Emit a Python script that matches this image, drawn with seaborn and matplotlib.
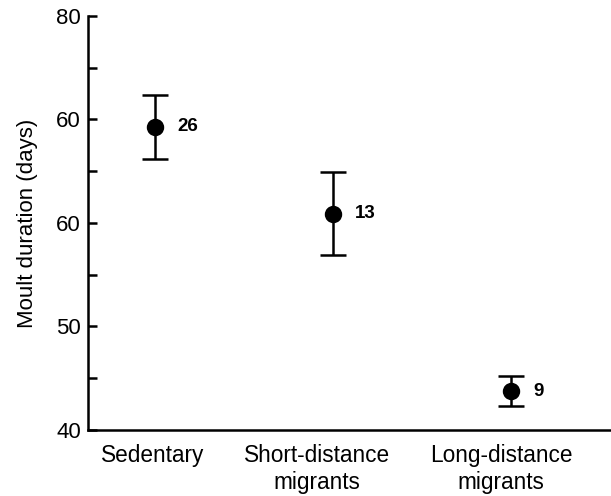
import matplotlib
matplotlib.use("Agg")
import matplotlib.pyplot as plt
import matplotlib.transforms as mtransforms
import seaborn as sns
import numpy as np

categories = ["Sedentary", "Short-distance\nmigrants", "Long-distance\nmigrants"]
means = [69.3, 60.9, 43.75]
err_low = [3.15, 3.95, 1.4]
err_high = [3.05, 4.05, 1.45]
sample_n = ["26", "13", "9"]
ytick_vals = [40, 50, 60, 70, 80]
ytick_labels = ["40", "50", "60", "60", "80"]

sns.set_style("ticks")
plt.rcParams['font.family'] = ['Liberation Sans', 'DejaVu Sans']
plt.rcParams['text.color'] = 'black'
plt.rcParams['axes.labelcolor'] = 'black'

fig = plt.figure(figsize=(6.11, 4.96), dpi=100)
ax = fig.add_axes([88/611, 66/496, 523/611, 414/496])

sns.pointplot(x=categories, y=means, linestyle="none", errorbar=None,
              color="black", markers="o", markersize=10.5, ax=ax, zorder=3)
xs = np.arange(len(categories))
ax.errorbar(xs, means, yerr=[err_low, err_high], fmt="none", ecolor="black",
            elinewidth=1.8, capsize=9.5, capthick=1.8, zorder=2)

for x, m, n in zip(xs, means, sample_n):
    ax.annotate(n, (x, m), xytext=(16, 0), textcoords="offset points",
                va="center", ha="left", fontsize=13.5, fontweight="bold",
                color="black")

ax.set_xlim(-0.376, 2.562)
ax.set_ylim(40, 80)
ax.set_yticks(ytick_vals)
ax.set_yticklabels(ytick_labels)
ax.set_yticks([45, 55, 65, 75], minor=True)
ax.set_xticks(xs)
ax.set_xticklabels(categories, linespacing=1.25)

ax.tick_params(axis="y", which="both", direction="in", length=6.5, width=1.8,
               labelsize=16, pad=5, colors="black")
ax.tick_params(axis="x", length=0, labelsize=16.3, pad=10, colors="black")
ax.set_xlabel("")
ax.set_ylabel("Moult duration (days)", fontsize=16, labelpad=13)

# small horizontal shifts of category labels to match the original layout
for lab, dx in zip(ax.get_xticklabels(), [-2, -16, -10]):
    lab.set_transform(lab.get_transform() +
                      mtransforms.ScaledTranslation(dx / 100, 0, fig.dpi_scale_trans))

sns.despine(ax=ax)
for s in ["left", "bottom"]:
    ax.spines[s].set_linewidth(1.8)
    ax.spines[s].set_color("black")

fig.savefig("out.png", dpi=100)
